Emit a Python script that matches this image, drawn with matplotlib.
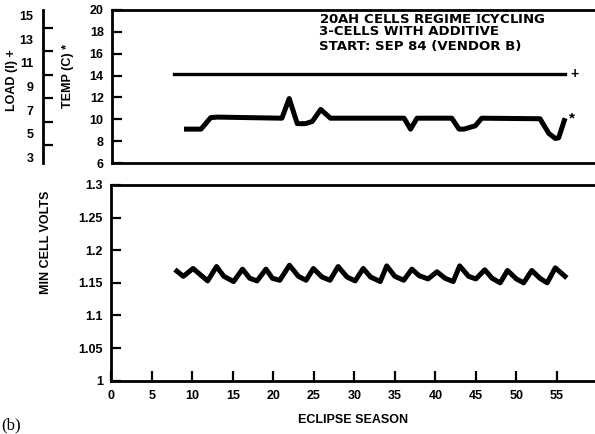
import numpy as np
import matplotlib
matplotlib.use('Agg')
import matplotlib.pyplot as plt
from matplotlib.ticker import FixedLocator

plt.rcParams['font.family'] = ['Liberation Sans', 'DejaVu Sans']
plt.rcParams['font.weight'] = 'bold'
plt.rcParams['mathtext.fontset'] = 'stix'

# load current (A), horizontal line
load_season = [7.7, 56.0]
load_amps = [10.1, 10.1]

# cell temperature (C)
temp_season = [8.9, 11.0, 12.2, 13.0, 21.0, 21.9, 22.9, 23.9, 24.75, 25.8, 27.0, 36.1,
               36.9, 37.7, 42.0, 42.9, 43.5, 44.9, 45.7, 52.9, 54.0, 54.8, 55.2, 56.0]
temp_c = [9.1, 9.1, 10.15, 10.2, 10.1, 11.9, 9.6, 9.6, 9.8, 10.9, 10.1, 10.1,
          9.1, 10.1, 10.1, 9.1, 9.1, 9.4, 10.1, 10.05, 8.7, 8.25, 8.3, 10.1]

# minimum cell voltage
volt_season = [8.1, 8.9, 10.1, 11.9, 13.0, 13.9, 15.1, 16.2, 17.1, 18.0, 19.1, 19.9, 20.8,
               22.0, 23.1, 24.05, 24.95, 26.0, 27.0, 28.0, 29.1, 30.1, 31.1, 32.0, 33.2,
               34.0, 35.0, 36.1, 37.1, 38.0, 39.1, 40.2, 41.2, 42.2, 43.0, 44.1, 45.0,
               46.1, 47.0, 48.0, 48.9, 50.0, 50.9, 51.9, 52.9, 53.8, 54.8, 56.0]
min_volts = [1.168, 1.160, 1.172, 1.153, 1.175, 1.160, 1.152, 1.171, 1.157, 1.153, 1.171,
             1.157, 1.154, 1.177, 1.160, 1.154, 1.172, 1.159, 1.154, 1.175, 1.159, 1.153,
             1.172, 1.159, 1.152, 1.176, 1.160, 1.154, 1.171, 1.161, 1.156, 1.167, 1.157,
             1.152, 1.176, 1.160, 1.156, 1.170, 1.157, 1.150, 1.169, 1.156, 1.150, 1.169,
             1.157, 1.150, 1.173, 1.160]

title_lines = [r'20AH CELLS REGIME $\mathbf{I}$CYCLING', '3-CELLS WITH ADDITIVE', 'START: SEP 84 (VENDOR B)']

W, H = 595, 434
fig = plt.figure(figsize=(5.95, 4.34), dpi=100)
ax1 = fig.add_axes([112/W, 1-163/H, 1-112/W, 153/H])
ax2 = fig.add_axes([111.2/W, 1-380.7/H, 1-111.2/W, 195.7/H])

lw_sp = 2.0
tick_kw = dict(direction='in', length=7, width=1.6, labelsize=9)

def bold_ticks(ax):
    for t in ax.get_xticklabels() + ax.get_yticklabels():
        t.set_fontweight('bold')

# ---- upper panel: temperature + load
ax1.plot(temp_season, temp_c, color='black', lw=3.6, solid_joinstyle='round', solid_capstyle='butt')
ax1.set_xlim(0, 59.7)
ax1.set_ylim(6, 20)
ax1.set_yticks([6, 8, 10, 12, 14, 16, 18, 20])
ax1.tick_params(axis='y', pad=6, **tick_kw)
ax1.set_xticks([])
for s in ['top', 'bottom', 'left']:
    ax1.spines[s].set_linewidth(lw_sp)
ax1.spines['right'].set_visible(False)
ax1.text(56.5, temp_c[-1], '*', fontsize=11, va='center', ha='left', weight='bold')
bold_ticks(ax1)

axl = ax1.twinx()
axl.plot(load_season, load_amps, color='black', lw=2.4)
axl.set_ylim(2.5, 15.5)
axl.spines['right'].set_visible(False)
axl.spines['top'].set_visible(False)
axl.spines['bottom'].set_visible(False)
axl.spines['left'].set_visible(True)
axl.spines['left'].set_position(('axes', (43-112)/(W-112)))
axl.spines['left'].set_linewidth(lw_sp)
axl.yaxis.set_ticks_position('left')
axl.yaxis.set_label_position('left')
axl.yaxis.set_major_locator(FixedLocator([3, 5, 7, 9, 11, 13, 15]))
axl.yaxis.set_minor_locator(FixedLocator([4, 6, 8, 10, 12, 14]))
axl.tick_params(axis='y', which='major', length=0, labelsize=9, pad=7)
axl.tick_params(axis='y', which='minor', direction='in', length=7, width=1.6)
axl.text(56.6, load_amps[-1], '+', fontsize=10, va='center', ha='left', weight='bold')
bold_ticks(axl)

for i, line in enumerate(title_lines):
    ax1.text(25.6, [19.15, 18.05, 16.7][i], line, fontsize=9.5, va='center', ha='left',
             family='DejaVu Sans', weight='bold')

# ---- lower panel: minimum cell volts
ax2.plot(volt_season, min_volts, color='black', lw=3.6, solid_joinstyle='round')
ax2.set_xlim(0, 59.7)
ax2.set_ylim(1.0, 1.3)
ax2.set_xticks(range(0, 60, 5))
ax2.set_yticks([1.0, 1.05, 1.1, 1.15, 1.2, 1.25, 1.3])
ax2.set_yticklabels(['1', '1.05', '1.1', '1.15', '1.2', '1.25', '1.3'])
ax2.tick_params(axis='both', **tick_kw)
ax2.tick_params(axis='x', pad=7)
ax2.tick_params(axis='y', pad=6)
for s in ['top', 'bottom', 'left']:
    ax2.spines[s].set_linewidth(lw_sp)
ax2.spines['right'].set_visible(False)
ax2.set_xlabel('ECLIPSE SEASON', fontsize=9, labelpad=8, weight='bold')
bold_ticks(ax2)

fig.text(12/W, 1-80/H, 'LOAD (I) +', rotation=90, fontsize=9, ha='center', va='center', weight='bold')
fig.text(68/W, 1-76/H, 'TEMP (C) *', rotation=90, fontsize=9, ha='center', va='center', weight='bold')
fig.text(46/W, 1-242/H, 'MIN CELL VOLTS', rotation=90, fontsize=9, ha='center', va='center', weight='bold')
fig.text(1/W, 1-425/H, '(b)', fontsize=12, family='Liberation Serif', weight='normal', ha='left', va='center')

fig.savefig('out.png', dpi=100)
